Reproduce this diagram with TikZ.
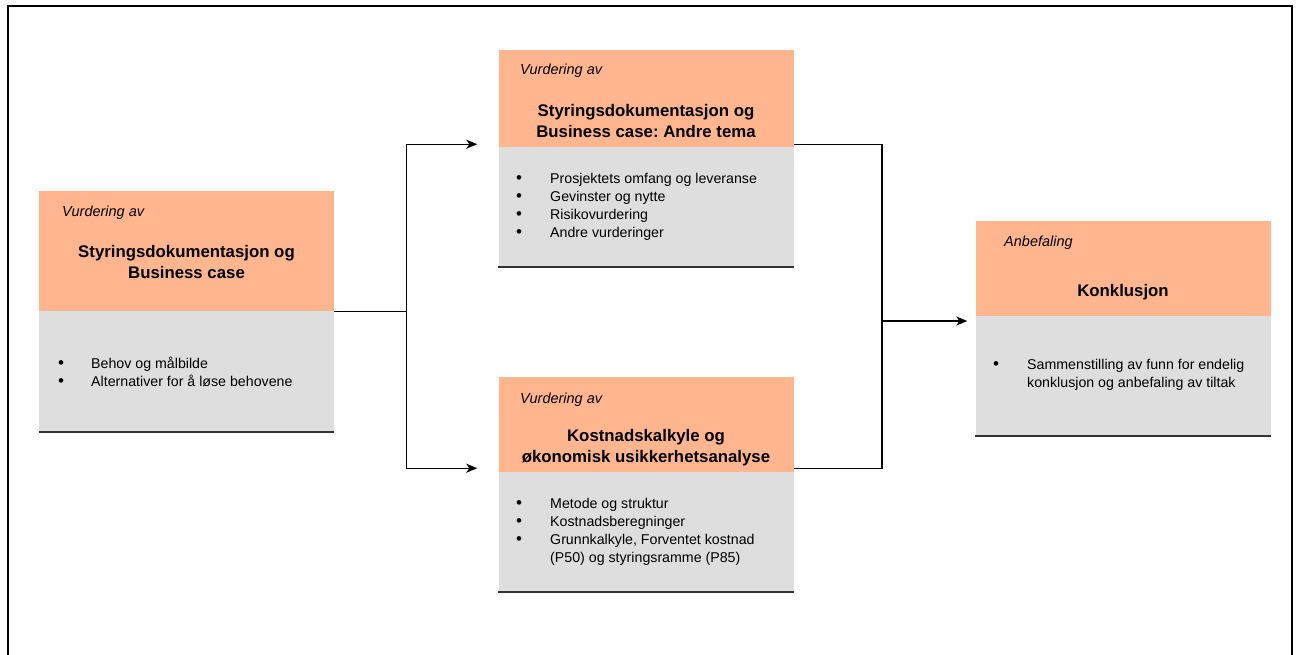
\documentclass[tikz,border=0pt]{standalone}
\usepackage{fontspec}
\setmainfont{Liberation Sans}
\usepackage{tikz}
\usetikzlibrary{arrows.meta}
\usetikzlibrary{positioning}
\definecolor{headfill}{HTML}{FFB68F}
\definecolor{bodyfill}{HTML}{DEDEDE}
\definecolor{rule}{HTML}{333333}
\newcommand{\bul}{\makebox[34pt][l]{\fontsize{17}{18}\selectfont\textbullet}}
\frenchspacing

\begin{document}
\begin{tikzpicture}[x=1pt,y=-1pt,
    head/.style={fill=headfill, minimum width=295pt, inner sep=0pt},
    body/.style={fill=bodyfill, minimum width=295pt, minimum height=119pt, inner sep=0pt, below=0pt of #1},
    tag/.style={font=\itshape\fontsize{14.5}{16}\selectfont, anchor=west, inner sep=0pt},
    title/.style={font=\bfseries\fontsize{16.8}{21}\selectfont, align=center, inner sep=0pt},
    items/.style={font=\fontsize{14.2}{18}\selectfont, align=left, anchor=west, inner sep=0pt},
    link/.style={line width=1.3pt},
    arrow/.style={link, -{Stealth[length=11pt,width=9pt,inset=3pt]}}]
        \useasboundingbox (0,0) rectangle (1297,655);
        \draw[line width=2pt] (8,660) -- (8,6) -- (1292,6) -- (1292,660);

        % Styringsdokumentasjon og Business case
        \node[head, minimum height=120pt] (sbHead) at (186.5,251) {};
        \node[body=sbHead, minimum height=120pt] (sbBody) {};
        \draw[rule, line width=2pt] (sbBody.south west) -- (sbBody.south east);
        \node[tag] (sbTag) at (62,213) {Vurdering av};
        \node[title] (sbTitle) at (186.5,262) {Styringsdokumentasjon og\\Business case};
        \node[items] (sbItems) at (58,372) {\makebox[33pt][l]{\fontsize{17}{18}\selectfont\textbullet}Behov og målbilde\\
            \makebox[33pt][l]{\fontsize{17}{18}\selectfont\textbullet}Alternativer for å løse behovene};

        % Andre tema
        \node[head, minimum height=97pt] (atHead) at (646,98.5) {};
        \node[body=atHead] (atBody) {};
        \draw[rule, line width=2pt] (atBody.south west) -- (atBody.south east);
        \node[tag] (atTag) at (520,71) {Vurdering av};
        \node[title] (atTitle) at (646,121) {Styringsdokumentasjon og\\Business case: Andre tema};
        \node[items] (atItems) at (516,207) {\bul Prosjektets omfang og leveranse\\
            \bul Gevinster og nytte\\
            \bul Risikovurdering\\
            \bul Andre vurderinger};

        % Kostnadskalkyle
        \node[head, minimum height=95pt] (kkHead) at (646,424.5) {};
        \node[body=kkHead] (kkBody) {};
        \draw[rule, line width=2pt] (kkBody.south west) -- (kkBody.south east);
        \node[tag] (kkTag) at (520,400) {Vurdering av};
        \node[title] (kkTitle) at (646,447.5) {Kostnadskalkyle og\\økonomisk usikkerhetsanalyse};
        \node[items] (kkItems) at (516,532) {\bul Metode og struktur\\
            \bul Kostnadsberegninger\\
            \bul Grunnkalkyle, Forventet kostnad\\
            \hspace*{34pt}(P50) og styringsramme (P85)};

        % Konklusjon
        \node[head, minimum height=95pt] (konHead) at (1123,268.5) {};
        \node[body=konHead] (konBody) {};
        \draw[rule, line width=2pt] (konBody.south west) -- (konBody.south east);
        \node[tag] (konTag) at (1004,243) {Anbefaling};
        \node[title] (konTitle) at (1123,292) {Konklusjon};
        \node[items] (konItems) at (993,375) {\bul Sammenstilling av funn for endelig\\
            \hspace*{34pt}konklusjon og anbefaling av tiltak};

        % connectors
        \path (sbHead.south east) ++(72,0) coordinate (split);
        \coordinate (merge) at (882,321);
        \draw[link] (sbHead.south east) -- (split);
        \draw[arrow, shorten >=21pt] (split) |- ([yshift=3pt]atHead.south west);
        \draw[arrow, shorten >=21pt] (split) |- ([yshift=4pt]kkHead.south west);
        \draw[link] ([yshift=3pt]atHead.south east) -| (merge) |- ([yshift=4pt]kkHead.south east);
        \draw[arrow, shorten >=8pt] (merge) -- (merge -| konHead.west);
\end{tikzpicture}
\end{document}
